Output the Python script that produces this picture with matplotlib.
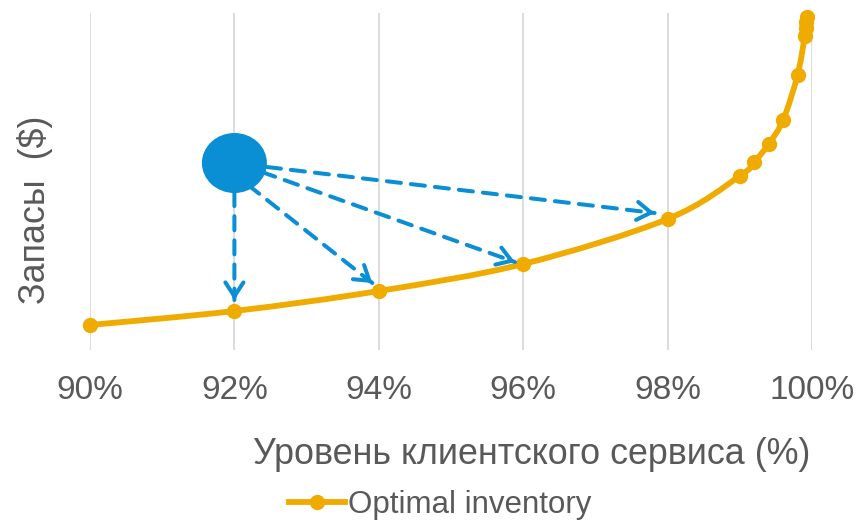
import matplotlib
matplotlib.use("Agg")
import numpy as np
import matplotlib.pyplot as plt
from matplotlib.patches import Ellipse, PathPatch
from matplotlib.path import Path
from matplotlib.lines import Line2D

plt.rcParams["font.family"] = ["Liberation Sans", "DejaVu Sans"]

# -----------------------------
# Data (service level %, inventory in arbitrary units)
# -----------------------------
service_level = [90.0, 92.0, 94.0, 96.0, 98.0, 99.0, 99.2, 99.4, 99.6, 99.8,
                 99.9, 99.91, 99.92, 99.93]
inventory = [25, 39, 59, 86, 131, 174, 188, 206, 230, 275, 314, 322, 328, 333]

x_ticks = [90, 92, 94, 96, 98, 100]
x_tick_labels = ["90%", "92%", "94%", "96%", "98%", "100%"]

# current position (blue dot) and arrow targets
current_point = (92.0, 187)
arrow_starts = [(92.0, 158), (92.19, 165), (92.38, 178), (92.45, 183)]
arrow_ends = [(92.0, 50), (93.91, 67), (95.886, 88), (97.82, 137)]

LINE_COLOR = "#F0AB00"
BLUE = "#0A8FD4"
TEXT_COLOR = "#595959"

X_SCALE = 72.2  # px per 1 % (y data is 1 unit per px)


def smooth_path(xs, ys):
    # Excel-like smoothed line: Catmull-Rom -> cubic Bezier in pixel-ish space
    p = np.column_stack([np.asarray(xs) * X_SCALE, np.asarray(ys, float)])
    verts = [p[0]]
    codes = [Path.MOVETO]
    n = len(p)
    for i in range(n - 1):
        p0 = p[i - 1] if i > 0 else p[i]
        p1 = p[i]
        p2 = p[i + 1]
        p3 = p[i + 2] if i + 2 < n else p[i + 1]
        c1 = p1 + (p2 - p0) / 6
        c2 = p2 - (p3 - p1) / 6
        verts += [c1, c2, p2]
        codes += [Path.CURVE4] * 3
    verts = np.array(verts)
    verts[:, 0] /= X_SCALE
    return Path(verts, codes)


# -----------------------------
# Plot
# -----------------------------
fig = plt.figure(figsize=(8.57, 5.22), dpi=100)
W, H = 857, 522
ax = fig.add_axes([90 / W, (H - 350) / H, (812 - 90) / W, (350 - 13) / H])

ax.set_xlim(90, 100)
ax.set_ylim(0, 337)

for xt in x_ticks:
    ax.axvline(xt, color="#D9D9D9", linewidth=1.3, zorder=0)

curve = PathPatch(smooth_path(service_level, inventory), facecolor="none",
                  edgecolor=LINE_COLOR, linewidth=4.2, capstyle="round",
                  joinstyle="round", zorder=3, clip_on=False)
ax.add_patch(curve)
ax.plot(service_level, inventory, linestyle="none", color=LINE_COLOR,
        marker="o", markersize=10, zorder=3, clip_on=False)

ell = Ellipse(current_point, width=65 / X_SCALE, height=60, facecolor=BLUE,
              edgecolor="none", zorder=4)
ax.add_patch(ell)

for (x0, y0), (x1, y1) in zip(arrow_starts, arrow_ends):
    # dashed shaft
    ax.annotate("", xy=(x1, y1), xytext=(x0, y0),
                arrowprops=dict(arrowstyle="-", color=BLUE, linewidth=2.9,
                                linestyle=(0, (3.5, 2.5)),
                                shrinkA=0, shrinkB=0),
                zorder=4)
    # solid open head
    dx = (x1 - x0) * X_SCALE
    dy = y1 - y0
    d = np.hypot(dx, dy)
    hx = x1 - dx / d * 6 / X_SCALE
    hy = y1 - dy / d * 6
    ax.annotate("", xy=(x1, y1), xytext=(hx, hy),
                arrowprops=dict(arrowstyle="->,head_length=1.0,head_width=0.65",
                                color=BLUE, linewidth=2.9,
                                shrinkA=0, shrinkB=0),
                zorder=4)

ax.set_xticks(x_ticks)
ax.set_xticklabels(x_tick_labels, fontsize=24, color=TEXT_COLOR)
ax.set_yticks([])
ax.tick_params(axis="x", length=0, pad=18)
for s in ax.spines.values():
    s.set_visible(False)

fig.text(532 / W, 1 - 455 / H, "Уровень клиентского сервиса (%)",
         fontsize=25.8, color=TEXT_COLOR, ha="center", va="center")
fig.text(35 / W, 1 - 210 / H, "Запасы  ($)", fontsize=25.8, color=TEXT_COLOR,
         ha="center", va="center", rotation=90)

handle = Line2D([], [], color=LINE_COLOR, linewidth=4.2, marker="o",
                markersize=10)
leg = fig.legend([handle], ["Optimal inventory"], loc="center",
                 bbox_to_anchor=(440 / W, 1 - 505 / H),
                 frameon=False, fontsize=22.5, handlelength=1.8,
                 handletextpad=0.1, borderaxespad=0)
for t in leg.get_texts():
    t.set_color(TEXT_COLOR)

fig.savefig("out.png", dpi=100)
